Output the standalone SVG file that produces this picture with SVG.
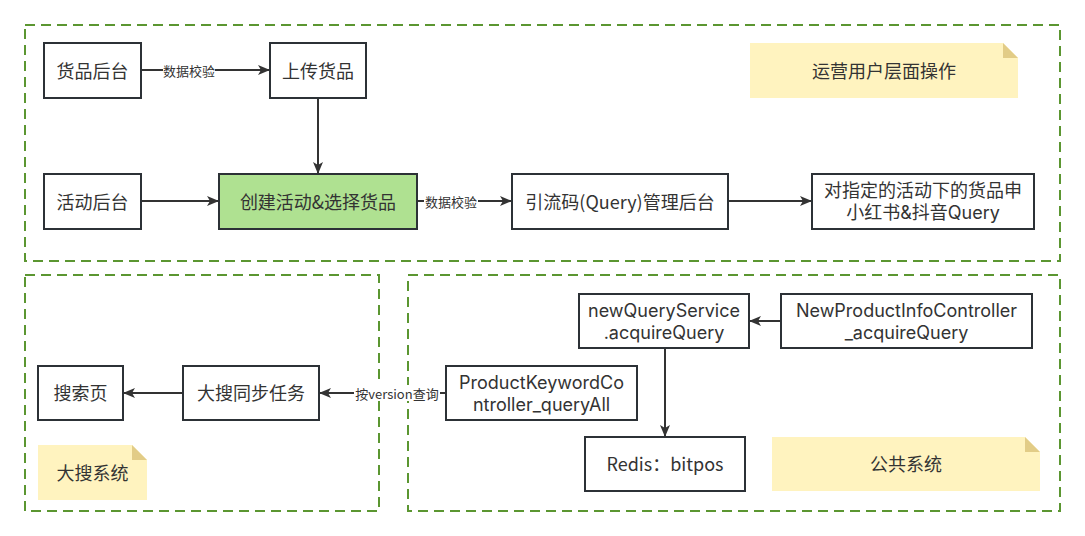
<svg xmlns="http://www.w3.org/2000/svg" width="1085" height="536" viewBox="0 0 1085 536">
<style>
.bg{fill:#ffffff}
.cont{fill:none;stroke:#5b9631;stroke-width:2;stroke-dasharray:10 6}
.box{fill:#ffffff;stroke:#2c3136;stroke-width:2}
.green{fill:#afe191}
.note{fill:#fff3bf}
.fold{fill:#e2cc87}
.t{font-family:"Noto Sans CJK SC","Liberation Sans",sans-serif;font-size:18px;fill:#333333;text-anchor:middle;dominant-baseline:central}
.t2{font-family:Inter,"Noto Sans CJK SC",sans-serif;font-size:18px;fill:#333333;text-anchor:middle;dominant-baseline:central}
.lbl{font-family:"Noto Sans CJK SC","Liberation Sans",sans-serif;font-size:13px;fill:#333333;text-anchor:middle;dominant-baseline:central}
.edge{fill:none;stroke:#333333;stroke-width:2}
</style>
<defs>
<marker id="arr" viewBox="0 0 12 10" refX="12" refY="5" markerWidth="12" markerHeight="10" markerUnits="userSpaceOnUse" orient="auto">
<path d="M0,0 L12,5 L0,10 L3,5 Z" fill="#333333"/>
</marker>
</defs>
<rect class="bg" x="0" y="0" width="1085" height="536"/>
<g id="containers">
<rect id="c-top" class="cont" x="25" y="25" width="1035" height="236"/>
<rect id="c-search" class="cont" x="25" y="275" width="354" height="236"/>
<rect id="c-public" class="cont" x="408" y="275" width="652" height="236"/>
</g>
<g id="connectors">
<path class="edge" d="M141,70 L270,70" marker-end="url(#arr)"/>
<rect x="163" y="62" width="52" height="16" fill="#ffffff"/>
<text class="lbl" x="189" y="70">数据校验</text>
<path class="edge" d="M318,98 L318,174" marker-end="url(#arr)"/>
<path class="edge" d="M141,201 L219,201" marker-end="url(#arr)"/>
<path class="edge" d="M417,201 L512,201" marker-end="url(#arr)"/>
<rect x="424" y="193" width="54" height="16" fill="#ffffff"/>
<text class="lbl" x="451" y="201">数据校验</text>
<path class="edge" d="M728,201 L812,201" marker-end="url(#arr)"/>
<path class="edge" d="M780,321 L749,321" marker-end="url(#arr)"/>
<path class="edge" d="M665,348 L665,437" marker-end="url(#arr)"/>
<path class="edge" d="M446,393 L319,393" marker-end="url(#arr)"/>
<rect x="354" y="385" width="86" height="16" fill="#ffffff"/>
<text class="lbl" x="397" y="393">按version查询</text>
<path class="edge" d="M183,393 L123,393" marker-end="url(#arr)"/>
</g>
<g id="n-huopinhoutai"><rect class="box" x="44" y="43" width="97" height="55"/><text class="t" x="92.5" y="69.5">货品后台</text></g>
<g id="n-shangchuan"><rect class="box" x="270" y="43" width="96" height="55"/><text class="t" x="318" y="69.5">上传货品</text></g>
<g id="n-note-ops"><path class="note" d="M750,43 L1003,43 L1018,58 L1018,98 L750,98 Z"/><path class="fold" d="M1003,43 L1018,58 L1003,58 Z"/><text class="t" x="884" y="70">运营用户层面操作</text></g>
<g id="n-huodong"><rect class="box" x="44" y="174" width="97" height="55"/><text class="t" x="92.5" y="200.5">活动后台</text></g>
<g id="n-chuangjian"><rect class="box green" x="219" y="174" width="198" height="55"/><text class="t" x="318" y="200.5">创建活动&amp;选择货品</text></g>
<g id="n-yinliuma"><rect class="box" x="512" y="174" width="216" height="55"/><text class="t" x="620" y="200.5">引流码(Query)管理后台</text></g>
<g id="n-duizhiding"><rect class="box" x="812" y="174" width="222" height="55"/><text class="t2" x="923" y="190"><tspan x="923">对指定的活动下的货品申</tspan><tspan x="923" dy="22">小红书&amp;抖音Query</tspan></text></g>
<g id="n-sousuoye"><rect class="box" x="38" y="366" width="85" height="54"/><text class="t" x="80.5" y="392">搜索页</text></g>
<g id="n-tongbu"><rect class="box" x="183" y="366" width="136" height="54"/><text class="t" x="251" y="392">大搜同步任务</text></g>
<g id="n-note-search"><path class="note" d="M38,445 L132,445 L147,460 L147,500 L38,500 Z"/><path class="fold" d="M132,445 L147,460 L132,460 Z"/><text class="t" x="92.5" y="472">大搜系统</text></g>
<g id="n-newquery"><rect class="box" x="579" y="294" width="170" height="54"/><text class="t2" x="664" y="310"><tspan x="664">newQueryService</tspan><tspan x="664" dy="22">.acquireQuery</tspan></text></g>
<g id="n-newproduct"><rect class="box" x="781" y="294" width="251" height="54"/><text class="t2" x="906.5" y="310"><tspan x="906.5">NewProductInfoController</tspan><tspan x="906.5" dy="22">_acquireQuery</tspan></text></g>
<g id="n-productkeyword"><rect class="box" x="446" y="366" width="191" height="54"/><text class="t2" x="541.5" y="382"><tspan x="541.5">ProductKeywordCo</tspan><tspan x="541.5" dy="22">ntroller_queryAll</tspan></text></g>
<g id="n-redis"><rect class="box" x="585" y="437" width="160" height="54"/><text class="t" x="665" y="463">Redis：bitpos</text></g>
<g id="n-note-public"><path class="note" d="M772,437 L1025,437 L1040,452 L1040,491 L772,491 Z"/><path class="fold" d="M1025,437 L1040,452 L1025,452 Z"/><text class="t" x="906" y="463">公共系统</text></g>
</svg>
